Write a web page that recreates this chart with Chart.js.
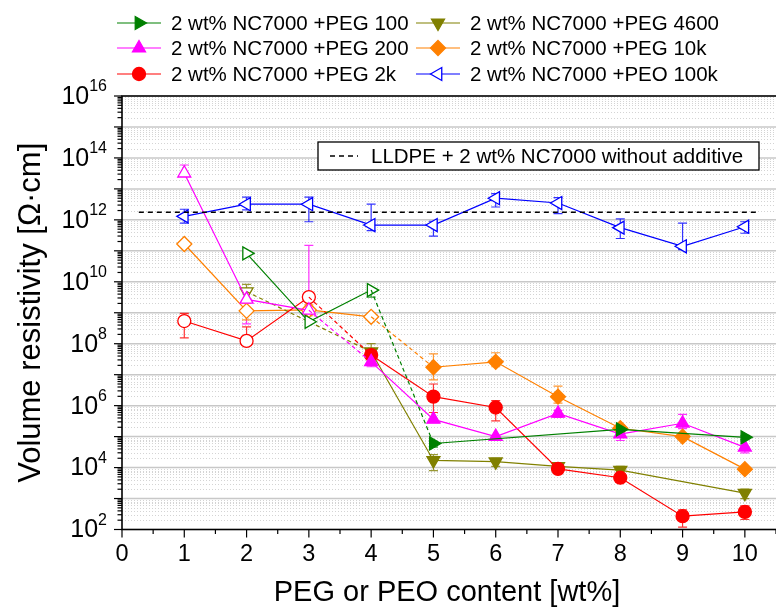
<!DOCTYPE html>
<html><head><meta charset="utf-8">
<script src="https://cdn.jsdelivr.net/npm/chart.js@4"></script>
<style>html,body{margin:0;padding:0;background:#fff;}#wrap{width:776px;height:613px;position:relative;}</style>
</head><body><div id="wrap"><canvas id="c" width="776" height="613"></canvas></div>
<script>
// ---------------- data ----------------
const contents = [1, 2, 3, 4, 5, 6, 7, 8, 9, 10];
const seriesNames = ['2 wt% NC7000 +PEG 100', '2 wt% NC7000 +PEG 200', '2 wt% NC7000 +PEG 2k',
                     '2 wt% NC7000 +PEG 4600', '2 wt% NC7000 +PEG 10k', '2 wt% NC7000 +PEO 100k'];
const peg100   = [null, 8.3e10, 5.1e8, 5.4e9, 6.0e4, null, null, 1.7e5, null, 9.5e4];
const peg100Lo = [null, null, null, 3.2e9, 4.6e4, null, null, 1.3e5, null, 8.0e4];
const peg100Hi = [null, null, null, null, null, null, null, 2.2e5, null, 1.1e5];
const peg200   = [3.2e13, 2.7e9, 1.2e9, 2.6e7, 3.6e5, 1.0e5, 5.6e5, 1.2e5, 2.7e5, 4.5e4];
const peg200Lo = [null, 4.4e8, null, 1.8e7, null, 7.5e4, 4.2e5, 7.5e4, 1.8e5, 3.0e4];
const peg200Hi = [5.9e13, null, 1.5e11, 3.2e7, null, null, 7.0e5, null, 5.2e5, null];
const peg2k    = [5.4e8, 1.23e8, 3.2e9, 4.3e7, 1.95e6, 8.7e5, 9.1e3, 4.7e3, 270, 370];
const peg2kLo  = [1.55e8, null, null, null, 6.0e5, 3.2e5, null, null, 120, 210];
const peg2kHi  = [9.5e8, 3.5e8, null, null, 5.0e6, 1.45e6, null, null, 430, 580];
const peg4600   = [null, 4.8e9, null, 5.5e7, 1.7e4, 1.55e4, 1.1e4, 8.3e3, null, 1.5e3];
const peg4600Lo = [null, null, null, 3.0e7, 8.0e3, 1.1e4, null, 6.0e3, null, 1.0e3];
const peg4600Hi = [null, 8.3e9, null, 1.0e8, 2.6e4, 2.0e4, null, 1.1e4, null, 2.0e3];
const peg10k   = [1.66e11, 1.15e9, 1.23e9, 7.4e8, 1.74e7, 2.6e7, 1.95e6, 1.86e5, 1.0e5, 8.9e3];
const peg10kLo = [null, 5.9e8, 8.0e8, null, 6.8e6, 1.8e7, 1.2e6, 1.3e5, null, null];
const peg10kHi = [null, 2.0e9, 1.8e9, null, 4.7e7, 5.1e7, 4.3e6, 2.4e5, null, null];
const peo100k   = [1.3e12, 3.2e12, 3.2e12, 6.8e11, 6.8e11, 5.0e12, 3.5e12, 5.6e11, 1.4e11, 6.0e11];
const peo100kLo = [7.8e11, 2.1e12, 8.7e11, 4.5e11, 3.0e11, 2.6e12, 1.6e12, 2.5e11, 1.1e11, 3.7e11];
const peo100kHi = [2.2e12, 5.4e12, 5.4e12, 3.2e12, 9.0e11, 7.0e12, 5.2e12, 1.07e12, 7.8e11, 8.7e11];
const lastOpenContent = [4, 3, 3, 2, 4, 10];   // hollow markers up to this content
const referenceName = 'LLDPE + 2 wt% NC7000 without additive';
const referenceValue = 1.75e12;
const referenceSpan = [0.27, 10.2];
const xTickLabels = ['0','1','2','3','4','5','6','7','8','9','10'];
const yTickExponents = [2, 4, 6, 8, 10, 12, 14, 16];
const xTitle = 'PEG or PEO content [wt%]';
const yTitle = 'Volume resistivity [Ω·cm]';

// ---------------- styling ----------------
const FONT = '"Liberation Sans", Arial, sans-serif';
const values = [peg100, peg200, peg2k, peg4600, peg10k, peo100k];
const lows = [peg100Lo, peg200Lo, peg2kLo, peg4600Lo, peg10kLo, peo100kLo];
const highs = [peg100Hi, peg200Hi, peg2kHi, peg4600Hi, peg10kHi, peo100kHi];
const styles = [
  {color:'#008000', shape:'triangle', rot:90, r:7.5},
  {color:'#ff00ff', shape:'triangle', rot:0, r:7.5},
  {color:'#ff0000', shape:'circle', rot:0, r:6.5},
  {color:'#808000', shape:'triangle', rot:180, r:7.5},
  {color:'#ff8000', shape:'rectRot', rot:0, r:7.5},
  {color:'#0000ff', shape:'triangle', rot:270, r:7.5},
];

const datasets = [];
values.forEach((vals, si) => {
  const st = styles[si];
  const pts = contents.map((x, i) => vals[i] == null ? null : {x: x, y: vals[i]}).filter(Boolean);
  const open = pts.filter(p => p.x <= lastOpenContent[si]);
  const filled = pts.filter(p => p.x > lastOpenContent[si]);
  const common = {borderColor: st.color, pointStyle: st.shape, pointRotation: st.rot, pointRadius: st.r,
    pointBorderColor: st.color, borderWidth: 1.2, pointBorderWidth: 1.3, tension: 0, fill: false, spanGaps: true};
  if (filled.length) {
    datasets.push(Object.assign({}, common, {data: [open[open.length-1], filled[0]], borderDash: [4, 3], pointRadius: 0}));
  }
  datasets.push(Object.assign({}, common, {data: open, pointBackgroundColor: '#ffffff'}));
  if (filled.length) {
    datasets.push(Object.assign({}, common, {data: filled, pointBackgroundColor: st.color}));
  }
});
datasets.unshift({data: [{x: referenceSpan[0], y: referenceValue}, {x: referenceSpan[1], y: referenceValue}],
  borderColor: '#000', borderWidth: 1.5, borderDash: [5, 4], pointRadius: 0, fill: false});

function drawMarker(ctx, st, x, y, filled) {
  ctx.save();
  ctx.translate(x, y);
  ctx.rotate(st.rot * Math.PI / 180);
  ctx.beginPath();
  const r = st.r;
  if (st.shape === 'circle') ctx.arc(0, 0, r, 0, Math.PI * 2);
  else if (st.shape === 'rectRot') { ctx.moveTo(0, -r); ctx.lineTo(r, 0); ctx.lineTo(0, r); ctx.lineTo(-r, 0); ctx.closePath(); }
  else { for (let k = 0; k < 3; k++) { const a = -Math.PI/2 + k * 2 * Math.PI / 3; if (k===0) ctx.moveTo(r*Math.cos(a), r*Math.sin(a)); else ctx.lineTo(r*Math.cos(a), r*Math.sin(a)); } ctx.closePath(); }
  ctx.fillStyle = filled ? st.color : '#fff';
  ctx.fill();
  ctx.lineWidth = 1.3; ctx.strokeStyle = st.color; ctx.stroke();
  ctx.restore();
}

const decor = {
  id: 'decor',
  beforeDatasetsDraw(chart) {
    const ctx = chart.ctx, a = chart.chartArea, ys = chart.scales.y, xs = chart.scales.x;
    ctx.save();
    ctx.strokeStyle = '#d4d4d4'; ctx.lineWidth = 1; ctx.setLineDash([1, 2]);
    for (let n = 2; n < 16; n++) for (let m = 2; m <= 9; m++) {
      const y = Math.round(ys.getPixelForValue(m * Math.pow(10, n))) + 0.5;
      ctx.beginPath(); ctx.moveTo(a.left, y); ctx.lineTo(a.right, y); ctx.stroke();
    }
    ctx.setLineDash([]);
    ctx.strokeStyle = '#c8c8c8'; ctx.lineWidth = 1.5;
    for (let n = 3; n < 16; n++) {
      const y = ys.getPixelForValue(Math.pow(10, n));
      ctx.beginPath(); ctx.moveTo(a.left, y); ctx.lineTo(a.right, y); ctx.stroke();
    }
    values.forEach((vals, si) => {
      const st = styles[si];
      ctx.strokeStyle = st.color; ctx.lineWidth = 1.2; ctx.globalAlpha = 0.8;
      contents.forEach((c, i) => {
        if (vals[i] == null) return;
        const x = xs.getPixelForValue(c), yv = ys.getPixelForValue(vals[i]);
        [lows[si][i], highs[si][i]].forEach(e => {
          if (e == null) return;
          const ye = ys.getPixelForValue(e);
          ctx.beginPath(); ctx.moveTo(x, yv); ctx.lineTo(x, ye);
          ctx.moveTo(x - 4.5, ye); ctx.lineTo(x + 4.5, ye); ctx.stroke();
        });
      });
      ctx.globalAlpha = 1;
    });
    ctx.restore();
  },
  afterDraw(chart) {
    const ctx = chart.ctx, a = chart.chartArea, ys = chart.scales.y, xs = chart.scales.x;
    ctx.save();
    ctx.strokeStyle = '#000'; ctx.lineWidth = 1.6;
    ctx.strokeRect(a.left, a.top, a.right - a.left + 2, a.bottom - a.top);
    ctx.lineWidth = 1.2;
    for (let n = 2; n <= 16; n++) {
      const y = ys.getPixelForValue(Math.pow(10, n));
      ctx.beginPath(); ctx.moveTo(a.left, y); ctx.lineTo(a.left - 8, y); ctx.stroke();
      if (n < 16) for (let m = 2; m <= 9; m++) {
        const ym = ys.getPixelForValue(m * Math.pow(10, n));
        ctx.beginPath(); ctx.moveTo(a.left, ym); ctx.lineTo(a.left - 4.5, ym); ctx.stroke();
      }
    }
    for (let k = 0; k <= 21; k++) {
      const x = xs.getPixelForValue(k / 2);
      ctx.beginPath(); ctx.moveTo(x, a.bottom); ctx.lineTo(x, a.bottom + (k % 2 ? 4.5 : 8)); ctx.stroke();
    }
    ctx.fillStyle = '#000';
    yTickExponents.forEach(e => {
      const y = ys.getPixelForValue(Math.pow(10, e));
      ctx.font = '16px ' + FONT;
      const sw = ctx.measureText(String(e)).width;
      ctx.textAlign = 'left'; ctx.textBaseline = 'middle';
      ctx.fillText(String(e), 107 - sw, y - 9);
      ctx.font = '25px ' + FONT; ctx.textAlign = 'right';
      ctx.fillText('10', 107 - sw, y + 1);
    });
    ctx.font = '23.5px ' + FONT; ctx.textAlign = 'center'; ctx.textBaseline = 'middle';
    xTickLabels.forEach((t, k) => ctx.fillText(t, xs.getPixelForValue(k), a.bottom + 25));
    ctx.font = '29px ' + FONT;
    ctx.fillText(xTitle, (a.left + a.right) / 2 - 2, 593);
    ctx.save(); ctx.translate(31, (a.top + a.bottom) / 2); ctx.rotate(-Math.PI / 2);
    ctx.font = '31px ' + FONT; ctx.fillText(yTitle, 0, 0); ctx.restore();
    ctx.fillStyle = '#fff'; ctx.fillRect(318, 142, 441, 28);
    ctx.strokeStyle = '#000'; ctx.lineWidth = 1.3; ctx.strokeRect(318, 142, 441, 28);
    ctx.setLineDash([5, 4]); ctx.lineWidth = 1.5;
    ctx.beginPath(); ctx.moveTo(330, 156); ctx.lineTo(358, 156); ctx.stroke(); ctx.setLineDash([]);
    ctx.fillStyle = '#000'; ctx.font = '20.5px ' + FONT; ctx.textAlign = 'left';
    ctx.fillText(referenceName, 371, 157);
    const cols = [117, 416], rows = [23, 48, 74];
    seriesNames.forEach((nm, i) => {
      const cx = cols[Math.floor(i / 3)], cy = rows[i % 3], st = styles[i];
      ctx.strokeStyle = st.color; ctx.lineWidth = 1.2;
      ctx.beginPath(); ctx.moveTo(cx, cy); ctx.lineTo(cx + 44, cy); ctx.stroke();
      drawMarker(ctx, st, cx + 22, cy, i < 5);
      ctx.fillStyle = '#000'; ctx.font = '20.5px ' + FONT; ctx.textAlign = 'left'; ctx.textBaseline = 'middle';
      ctx.fillText(nm, cx + 54, cy + 1);
    });
    ctx.restore();
  }
};

new Chart(document.getElementById('c'), {
  type: 'line',
  data: {datasets: datasets},
  options: {
    responsive: false, animation: false, events: [],
    layout: {autoPadding: false, padding: {left: 122, top: 96, right: 0, bottom: 83.5}},
    plugins: {legend: {display: false}, tooltip: {enabled: false}},
    scales: {
      x: {type: 'linear', min: 0, max: 10.5, display: false},
      y: {type: 'logarithmic', min: 1e2, max: 1e16, display: false}
    }
  },
  plugins: [decor]
});
</script></body></html>
